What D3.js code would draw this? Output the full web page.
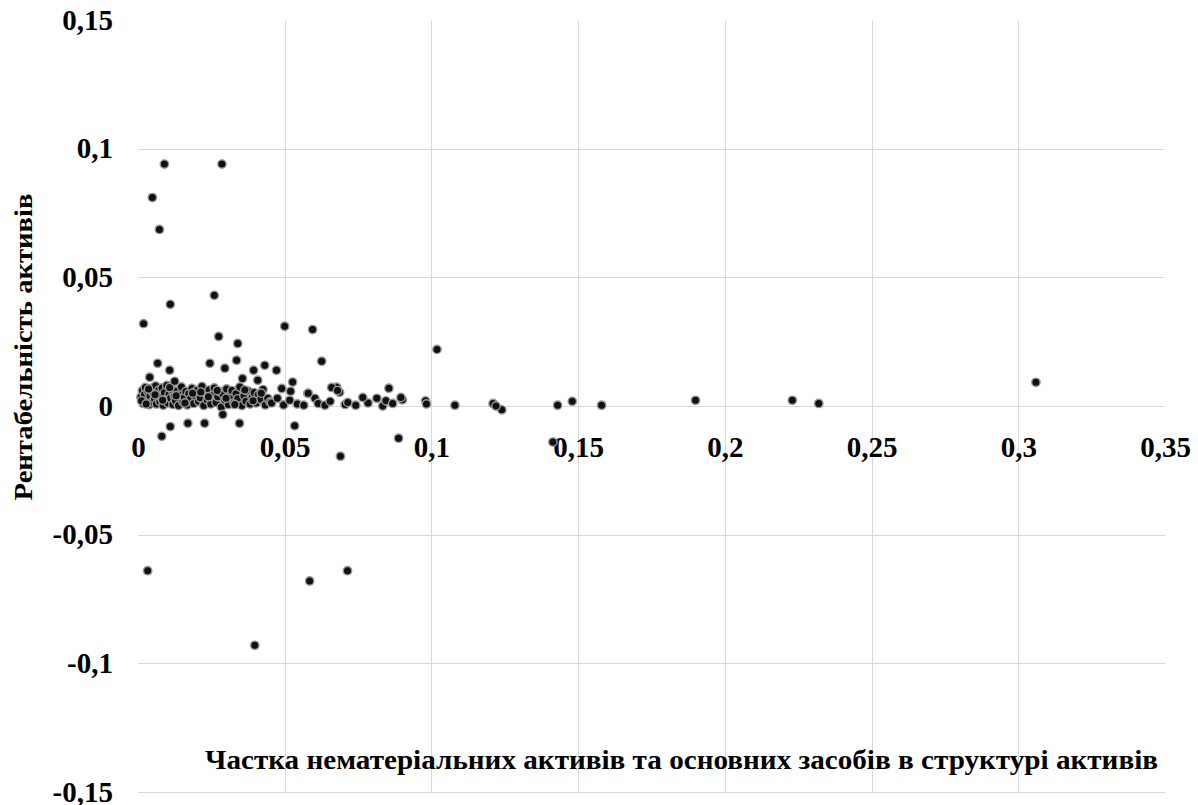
<!DOCTYPE html>
<html>
<head>
<meta charset="utf-8">
<script src="https://cdn.jsdelivr.net/npm/d3@7"></script>
<style>
  body { margin: 0; background: #fff; }
  text { font-family: "Liberation Serif", "Times New Roman", serif; font-weight: bold; fill: #000; }
</style>
</head>
<body>
<div id="chart"></div>
<script>
'use strict';

let width = 1198;
let height = 805;
let margin = { top: 20, bottom: 13, left: 138, right: 33 };

// tick values
const xTicks = [0, 0.05, 0.1, 0.15, 0.2, 0.25, 0.3, 0.35];
const yTicks = [-0.15, -0.1, -0.05, 0, 0.05, 0.1, 0.15];

const xTitle = "Частка нематеріальних активів та основних засобів в структурі активів";
const yTitle = "Рентабельність активів";

// scattered points [share, return]
const spread = [
    [0.009, 0.094], [0.0286, 0.094], [0.0049, 0.081], [0.0073, 0.0686],
    [0.026, 0.043], [0.0019, 0.032], [0.011, 0.0395], [0.0275, 0.027],
    [0.050, 0.031], [0.0595, 0.0297], [0.0626, 0.0174], [0.1019, 0.022],
    [0.306, 0.0092], [0.190, 0.0022], [0.223, 0.0022], [0.232, 0.001],
    [0.158, 0.0003], [0.148, 0.0018], [0.143, 0.0003], [0.124, -0.0015],
    [0.121, 0.001], [0.122, 0.0], [0.108, 0.0003], [0.1414, -0.014],
    [0.0888, -0.0125], [0.069, -0.0195], [0.0534, -0.0077], [0.0346, -0.0067],
    [0.0033, -0.064], [0.0585, -0.068], [0.0714, -0.064], [0.0398, -0.093],
    [0.0081, -0.0118], [0.011, -0.008], [0.017, -0.0067], [0.0227, -0.0067],
    [0.0289, -0.0033], [0.034, 0.0243], [0.0336, 0.0178], [0.0067, 0.0166],
    [0.0245, 0.0166], [0.0296, 0.0147], [0.0108, 0.0139], [0.004, 0.0112],
    [0.0394, 0.0139], [0.0432, 0.0158], [0.0472, 0.0139], [0.0356, 0.0107],
    [0.0408, 0.01], [0.0125, 0.0096], [0.0527, 0.0093], [0.049, 0.0068],
    [0.052, 0.0057], [0.058, 0.005], [0.066, 0.0072], [0.068, 0.006],
    [0.0766, 0.0033], [0.0855, 0.0069], [0.0896, 0.0033], [0.098, 0.002],
    [0.0983, 0.0008]
];

// points along the zero line, 0.045 - 0.09
const nearZero = [
    [0.0455, 0.0012], [0.0475, 0.0030], [0.0496, 0.0004], [0.0517, 0.0022],
    [0.0543, 0.0008], [0.0565, 0.0003], [0.0579, 0.0049], [0.0603, 0.003],
    [0.0614, 0.0010], [0.0637, 0.0003], [0.0655, 0.0018], [0.0677, 0.0073],
    [0.0687, 0.0053], [0.0706, 0.0006], [0.0715, 0.0014], [0.0742, 0.0003],
    [0.0784, 0.0012], [0.0814, 0.003], [0.0834, 0.0], [0.0845, 0.0020],
    [0.0868, 0.001], [0.0901, 0.0024]
];

// dense cluster near origin
const cluster = [
    [0.0010, 0.0035], [0.0015, 0.0060], [0.0018, 0.0010], [0.0022, 0.0045],
    [0.0025, 0.0072], [0.0030, 0.0020], [0.0034, 0.0055], [0.0038, 0.0005],
    [0.0041, 0.0040], [0.0045, 0.0068], [0.0048, 0.0015], [0.0052, 0.0050],
    [0.0056, 0.0028], [0.0060, 0.0078], [0.0063, 0.0008], [0.0067, 0.0042],
    [0.0071, 0.0062], [0.0074, 0.0018], [0.0078, 0.0035], [0.0082, 0.0070],
    [0.0086, 0.0003], [0.0090, 0.0052], [0.0094, 0.0025], [0.0098, 0.0080],
    [0.0102, 0.0012], [0.0106, 0.0046], [0.0111, 0.0030], [0.0115, 0.0064],
    [0.0119, 0.0006], [0.0124, 0.0038], [0.0128, 0.0020], [0.0133, 0.0058],
    [0.0138, 0.0002], [0.0143, 0.0044], [0.0148, 0.0074], [0.0153, 0.0016],
    [0.0158, 0.0034], [0.0163, 0.0056], [0.0168, 0.0004], [0.0173, 0.0048],
    [0.0178, 0.0026], [0.0184, 0.0068], [0.0190, 0.0010], [0.0195, 0.0040],
    [0.0200, 0.0060], [0.0206, 0.0018], [0.0212, 0.0032], [0.0218, 0.0076],
    [0.0224, 0.0002], [0.0230, 0.0050], [0.0236, 0.0024], [0.0242, 0.0062],
    [0.0248, 0.0008], [0.0254, 0.0042], [0.0260, 0.0070], [0.0266, 0.0014],
    [0.0272, 0.0036], [0.0278, 0.0056], [0.0284, -0.0004], [0.0290, 0.0046],
    [0.0296, 0.0022], [0.0302, 0.0066], [0.0308, 0.0006], [0.0314, 0.0038],
    [0.0320, 0.0060], [0.0327, 0.0012], [0.0334, 0.0048], [0.0340, 0.0028],
    [0.0347, 0.0074], [0.0354, 0.0002], [0.0361, 0.0040], [0.0368, 0.0018],
    [0.0375, 0.0058], [0.0382, 0.0008], [0.0389, 0.0034], [0.0396, 0.0052],
    [0.0403, 0.0012], [0.0410, 0.0044], [0.0418, 0.0026], [0.0426, 0.0064],
    [0.0434, 0.0004], [0.0442, 0.0030], [0.0450, 0.0016],
    [0.0012, 0.0020], [0.0028, 0.0008], [0.0036, 0.0066], [0.0058, 0.0044],
    [0.0084, 0.0022], [0.0108, 0.0072], [0.0130, 0.0040], [0.0160, 0.0012],
    [0.0186, 0.0050], [0.0214, 0.0054], [0.0240, 0.0036], [0.0270, 0.0060],
    [0.0300, 0.0030], [0.0330, 0.0006], [0.0364, 0.0062], [0.0392, 0.0020],
    [0.0420, 0.0050]
];

const fmt = d => String(d).replace(".", ",");

const svg = d3.select("#chart")
    .append("svg")
    .attr("width", width)
    .attr("height", height);

const x = d3.scaleLinear()
    .domain([0, 0.35])
    .range([margin.left, width - margin.right]);

const y = d3.scaleLinear()
    .domain([-0.15, 0.15])
    .range([height - margin.bottom, margin.top]);

// vertical grid
svg.append("g")
    .selectAll("line")
    .data(xTicks.filter(d => d > 0 && d < 0.35))
    .join("line")
    .attr("x1", d => Math.round(x(d)) + 0.5)
    .attr("x2", d => Math.round(x(d)) + 0.5)
    .attr("y1", y(0.15))
    .attr("y2", y(-0.15))
    .attr("stroke", "#d9d9d9");

// horizontal grid (incl. zero axis line)
svg.append("g")
    .selectAll("line")
    .data(yTicks.filter(d => d < 0.15))
    .join("line")
    .attr("x1", x(0))
    .attr("x2", x(0.35))
    .attr("y1", d => Math.round(y(d)) + 0.5)
    .attr("y2", d => Math.round(y(d)) + 0.5)
    .attr("stroke", "#d9d9d9");

// x axis labels sit below the zero line
const xAxis = svg.append("g")
    .attr("transform", `translate(0,${y(0)})`)
    .call(d3.axisBottom(x).tickValues(xTicks).tickSize(0).tickPadding(30).tickFormat(fmt));
xAxis.select(".domain").remove();
xAxis.selectAll("text")
    .style("font-family", "'Liberation Serif', serif")
    .style("font-weight", "bold")
    .style("font-size", "29px");

const yAxis = svg.append("g")
    .attr("transform", `translate(${margin.left},0)`)
    .call(d3.axisLeft(y).tickValues(yTicks).tickSize(0).tickPadding(25).tickFormat(fmt));
yAxis.select(".domain").remove();
yAxis.selectAll("text")
    .style("font-family", "'Liberation Serif', serif")
    .style("font-weight", "bold")
    .style("font-size", "29px");

// points
const allPoints = cluster.concat(nearZero, spread);
svg.append("g")
    .selectAll("circle")
    .data(allPoints)
    .join("circle")
    .attr("cx", d => x(d[0]))
    .attr("cy", d => y(d[1]))
    .attr("r", 4.2)
    .attr("fill", "#111")
    .attr("stroke", "#999")
    .attr("stroke-width", 1.4);

// axis titles
svg.append("text")
    .attr("x", 205)
    .attr("y", 769)
    .attr("textLength", 953)
    .attr("lengthAdjust", "spacingAndGlyphs")
    .style("font-size", "27px")
    .text(xTitle);

svg.append("text")
    .attr("transform", "translate(32,347) rotate(-90)")
    .attr("text-anchor", "middle")
    .attr("textLength", 307)
    .attr("lengthAdjust", "spacingAndGlyphs")
    .style("font-size", "26px")
    .text(yTitle);
</script>
</body>
</html>
